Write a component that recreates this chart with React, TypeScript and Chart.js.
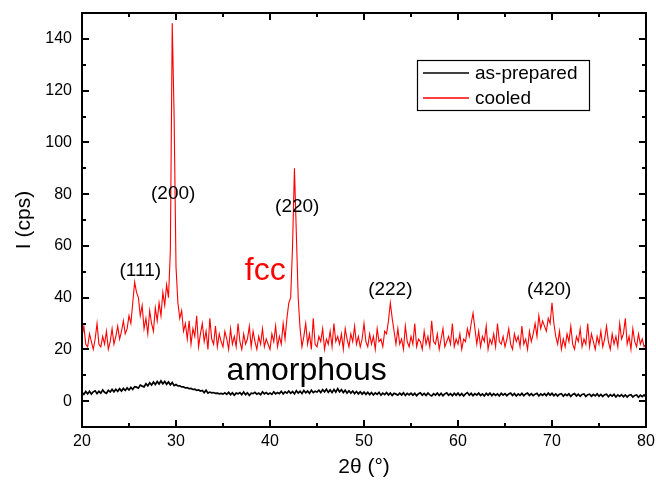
import React, { useEffect, useRef } from "react";
import { Chart, registerables } from "chart.js";

Chart.register(...registerables);

// 2θ sampling grid
const X_START = 20;
const X_STEP = 0.2;

// "cooled" intensities (cps), 20.0° .. 80.0° every 0.2°
const cooled = [
  25, 29, 22, 21, 26, 23, 20, 24, 30, 22, 21, 25, 22, 27, 20, 23, 28, 22, 25, 29, 24, 27, 31, 26, 28,
  33, 30, 38, 46, 42, 40, 33, 37, 28, 32, 26, 35, 30, 27, 36, 31, 38, 33, 42, 37, 45, 40, 58, 146, 110,
  52, 38, 32, 35, 27, 30, 24, 31, 22, 28, 25, 33, 21, 26, 30, 23, 27, 20, 32, 24, 22, 29, 21, 26, 23,
  21, 27, 24, 20, 28, 22, 25, 21, 30, 23, 20, 26, 22, 24, 29, 21, 27, 23, 20, 25, 22, 28, 21, 24, 22,
  20, 26, 23, 29, 21, 25, 22, 30, 24, 32, 38, 40, 60, 90, 65, 40, 28, 21, 25, 30, 22, 26, 20, 32, 22,
  21, 25, 23, 28, 20, 24, 22, 27, 21, 30, 23, 25, 22, 26, 20, 28, 24, 21, 26, 23, 29, 22, 25, 21, 24,
  30, 23, 21, 26, 22, 25, 20, 28, 23, 24, 21, 27, 26, 31, 38, 32, 27, 22, 28, 22, 24, 20, 29, 23, 21,
  25, 22, 30, 21, 24, 23, 20, 27, 22, 25, 21, 31, 23, 22, 26, 20, 24, 28, 21, 23, 25, 22, 30, 21, 24,
  22, 26, 20, 24, 23, 28, 25, 30, 34, 28, 22, 27, 21, 25, 23, 29, 20, 24, 22, 26, 21, 30, 23, 22, 25,
  21, 24, 28, 22, 20, 26, 23, 25, 21, 29, 22, 24, 20, 27, 23, 26, 30, 25, 33, 28, 31, 29, 27, 32, 30,
  38, 30, 25, 22, 27, 20, 24, 21, 26, 23, 29, 22, 20, 25, 23, 28, 21, 24, 22, 30, 21, 26, 23, 20, 25,
  22, 27, 21, 24, 29, 23, 20, 26, 22, 25, 21, 30, 24, 26, 32, 22, 25, 20, 28, 23, 21, 26, 22, 24, 21,
  22,
];

// "as-prepared" intensities (cps), 20.0° .. 80.0° every 0.2°
const asPrepared = [
  3.4, 2.6, 3.7, 2.8, 3.8, 2.7, 3.6, 4.0, 2.9, 3.8, 3.1, 4.3, 3.4, 3.0, 4.2, 3.5, 4.5, 3.6, 4.6, 3.8, 4.8, 3.9, 4.9, 4.1, 5.1,
  4.3, 5.3, 4.5, 5.6, 5.4, 5.0, 6.2, 5.8, 5.5, 6.7, 5.9, 7.1, 6.2, 7.4, 6.4, 7.6, 6.6, 7.8, 6.7, 7.6, 6.5, 7.4, 6.3, 7.2, 6.0,
  6.4, 5.9, 5.9, 5.5, 5.5, 5.1, 5.2, 4.8, 4.9, 4.5, 4.6, 4.2, 4.3, 3.9, 4.1, 3.3, 4.2, 3.1, 3.5, 3.2, 3.3, 3.0, 3.1, 2.8, 3.0,
  2.7, 3.2, 2.6, 3.4, 2.5, 3.2, 2.3, 3.1, 2.8, 3.3, 2.5, 3.5, 2.5, 3.2, 2.2, 3.1, 2.9, 3.4, 2.7, 3.1, 2.5, 3.6, 2.8, 3.3, 2.7,
  3.1, 2.6, 3.6, 2.8, 3.3, 2.9, 3.8, 2.8, 3.6, 3.1, 3.9, 3.0, 3.7, 2.8, 4.0, 3.1, 3.8, 2.9, 4.1, 3.2, 3.9, 3.0, 4.2, 3.3, 3.8,
  3.5, 4.2, 3.3, 4.4, 3.6, 4.6, 3.4, 4.3, 3.3, 4.5, 3.5, 4.8, 3.6, 4.4, 3.3, 4.2, 3.1, 4.0, 3.1, 3.9, 2.9, 3.7, 2.8, 3.6, 2.7,
  3.5, 2.6, 3.4, 2.5, 3.3, 2.4, 3.2, 2.6, 3.4, 2.3, 3.1, 2.5, 3.3, 2.4, 3.1, 2.2, 3.0, 2.7, 2.3, 3.1, 2.4, 3.2, 2.2, 3.0, 2.4,
  3.1, 2.3, 3.0, 2.1, 2.9, 3.2, 2.3, 3.0, 2.2, 3.1, 2.4, 2.0, 2.9, 2.3, 3.1, 2.2, 3.0, 2.1, 2.8, 3.2, 2.3, 2.9, 2.1, 3.0, 2.3,
  3.1, 2.2, 2.9, 2.0, 2.8, 3.3, 2.3, 3.0, 2.1, 2.9, 2.3, 3.1, 2.2, 2.8, 2.0, 3.0, 2.3, 3.1, 2.1, 2.9, 2.2, 2.8, 2.0, 3.0, 2.3,
  2.9, 2.1, 2.8, 3.1, 2.2, 2.9, 2.0, 2.8, 2.2, 3.0, 2.1, 2.8, 3.1, 2.2, 2.9, 2.1, 2.7, 3.0, 2.0, 2.8, 2.2, 2.9, 2.1, 3.1, 2.3,
  3.0, 2.1, 2.8, 2.0, 2.7, 2.9, 1.9, 2.7, 2.1, 2.8, 1.8, 2.6, 2.9, 2.0, 2.7, 1.9, 2.6, 2.8, 1.8, 2.5, 2.7, 1.9, 2.6, 2.0, 2.8,
  1.9, 2.6, 1.8, 2.5, 2.7, 1.7, 2.5, 1.9, 2.6, 1.6, 2.4, 1.8, 2.5, 1.7, 2.4, 1.6, 2.3, 2.5, 1.6, 2.2, 2.4, 1.5, 2.3, 1.7, 2.4,
  1.6,
];

const seriesLabels = ["as-prepared", "cooled"];

const xMajorTicks = [20, 30, 40, 50, 60, 70, 80];
const xMinorTicks = [25, 35, 45, 55, 65, 75];
const yMajorTicks = [0, 20, 40, 60, 80, 100, 120, 140];
const yMinorTicks = [10, 30, 50, 70, 90, 110, 130];

// peak annotations: [text, 2θ, intensity]
const peakLabels: [string, number, number][] = [
  ["(111)", 26.2, 50.3],
  ["(200)", 29.7, 80],
  ["(220)", 42.9, 75],
  ["(222)", 52.8, 43],
  ["(420)", 69.7, 43],
];

const FONT = "'Liberation Sans', Arial, sans-serif";

const decorPlugin = {
  id: "decor",
  afterDraw(chart: any) {
    const ctx = chart.ctx as CanvasRenderingContext2D;
    const { left, right, top, bottom } = chart.chartArea;
    const xs = chart.scales.x;
    const ys = chart.scales.y;
    ctx.save();
    ctx.strokeStyle = "#000";
    ctx.lineWidth = 2;
    ctx.lineCap = "butt";
    const drawX = (vals: number[], len: number) => {
      for (const v of vals) {
        const px = Math.round(xs.getPixelForValue(v));
        ctx.beginPath();
        ctx.moveTo(px, bottom);
        ctx.lineTo(px, bottom - len);
        ctx.moveTo(px, top);
        ctx.lineTo(px, top + len);
        ctx.stroke();
      }
    };
    const drawY = (vals: number[], len: number) => {
      for (const v of vals) {
        const py = Math.round(ys.getPixelForValue(v));
        ctx.beginPath();
        ctx.moveTo(left, py);
        ctx.lineTo(left + len, py);
        ctx.moveTo(right, py);
        ctx.lineTo(right - len, py);
        ctx.stroke();
      }
    };
    drawX(xMajorTicks, 7);
    drawX(xMinorTicks, 4);
    drawY(yMajorTicks, 7);
    drawY(yMinorTicks, 4);
    ctx.strokeRect(left, top, right - left, bottom - top);

    ctx.fillStyle = "#000";
    ctx.font = `19px ${FONT}`;
    ctx.textAlign = "center";
    ctx.textBaseline = "middle";
    for (const [t, x, y] of peakLabels) {
      ctx.fillText(t, xs.getPixelForValue(x), ys.getPixelForValue(y));
    }
    ctx.font = `32px ${FONT}`;
    ctx.fillStyle = "#ff0000";
    ctx.fillText("fcc", xs.getPixelForValue(39.5), ys.getPixelForValue(50.3));
    ctx.fillStyle = "#000";
    ctx.fillText("amorphous", xs.getPixelForValue(43.9), ys.getPixelForValue(11.6));

    const lx = 417, ly = 60, lw = 172, lh = 50;
    ctx.fillStyle = "#fff";
    ctx.fillRect(lx, ly, lw, lh);
    ctx.lineWidth = 1.2;
    ctx.strokeStyle = "#000";
    ctx.strokeRect(lx + 0.5, ly + 0.5, lw, lh);
    const colors = ["#000000", "#ff0000"];
    ctx.font = `19px ${FONT}`;
    ctx.textAlign = "left";
    seriesLabels.forEach((lab, i) => {
      const yy = ly + 13 + i * 25;
      ctx.strokeStyle = colors[i];
      ctx.lineWidth = 1.5;
      ctx.beginPath();
      ctx.moveTo(lx + 6, yy);
      ctx.lineTo(lx + 52, yy);
      ctx.stroke();
      ctx.fillStyle = "#000";
      ctx.fillText(lab, lx + 58, yy + 1);
    });
    ctx.restore();
  },
};

export default function App() {
  const ref = useRef<HTMLCanvasElement>(null);
  useEffect(() => {
    document.body.style.margin = "0";
    const canvas = ref.current!;
    const toPts = (arr: number[]) => arr.map((v, i) => ({ x: X_START + i * X_STEP, y: v }));
    const chart = new Chart(canvas, {
      type: "line",
      data: {
        datasets: [
          {
            label: seriesLabels[0],
            data: toPts(asPrepared),
            borderColor: "#000000",
            borderWidth: 1.7,
            pointRadius: 0,
            tension: 0,
          },
          {
            label: seriesLabels[1],
            data: toPts(cooled),
            borderColor: "#ff0000",
            borderWidth: 1.1,
            pointRadius: 0,
            tension: 0,
          },
        ],
      },
      options: {
        animation: false,
        responsive: true,
        maintainAspectRatio: false,
        layout: { padding: { left: 0, top: 13, right: 10, bottom: 0 } },
        plugins: { legend: { display: false }, tooltip: { enabled: false } },
        scales: {
          x: {
            type: "linear",
            min: 20,
            max: 80,
            afterBuildTicks: (s: any) => {
              s.ticks = xMajorTicks.map((v) => ({ value: v }));
            },
            afterFit: (s: any) => {
              s.height = 53;
              s.paddingLeft = 0;
              s.paddingRight = 0;
            },
            grid: { display: false, drawTicks: false },
            border: { display: false },
            ticks: {
              color: "#000",
              font: { family: FONT, size: 16 },
              padding: 5,
              maxRotation: 0,
            },
            title: {
              display: true,
              text: "2θ (°)",
              color: "#000",
              font: { family: FONT, size: 21 },
              padding: { top: 1, bottom: 0 },
            },
          },
          y: {
            type: "linear",
            min: -10,
            max: 150,
            afterBuildTicks: (s: any) => {
              s.ticks = yMajorTicks.map((v) => ({ value: v }));
            },
            afterFit: (s: any) => {
              s.width = 82;
              s.paddingTop = 0;
              s.paddingBottom = 0;
            },
            grid: { display: false, drawTicks: false },
            border: { display: false },
            ticks: {
              color: "#000",
              font: { family: FONT, size: 16 },
              padding: 10,
            },
            title: {
              display: true,
              text: "I (cps)",
              color: "#000",
              font: { family: FONT, size: 21 },
              padding: { top: 12, bottom: 0 },
            },
          },
        },
      },
      plugins: [decorPlugin],
    });
    return () => chart.destroy();
  }, []);
  return (
    <div style={{ position: "relative", width: 656, height: 480 }}>
      <canvas ref={ref} />
    </div>
  );
}
